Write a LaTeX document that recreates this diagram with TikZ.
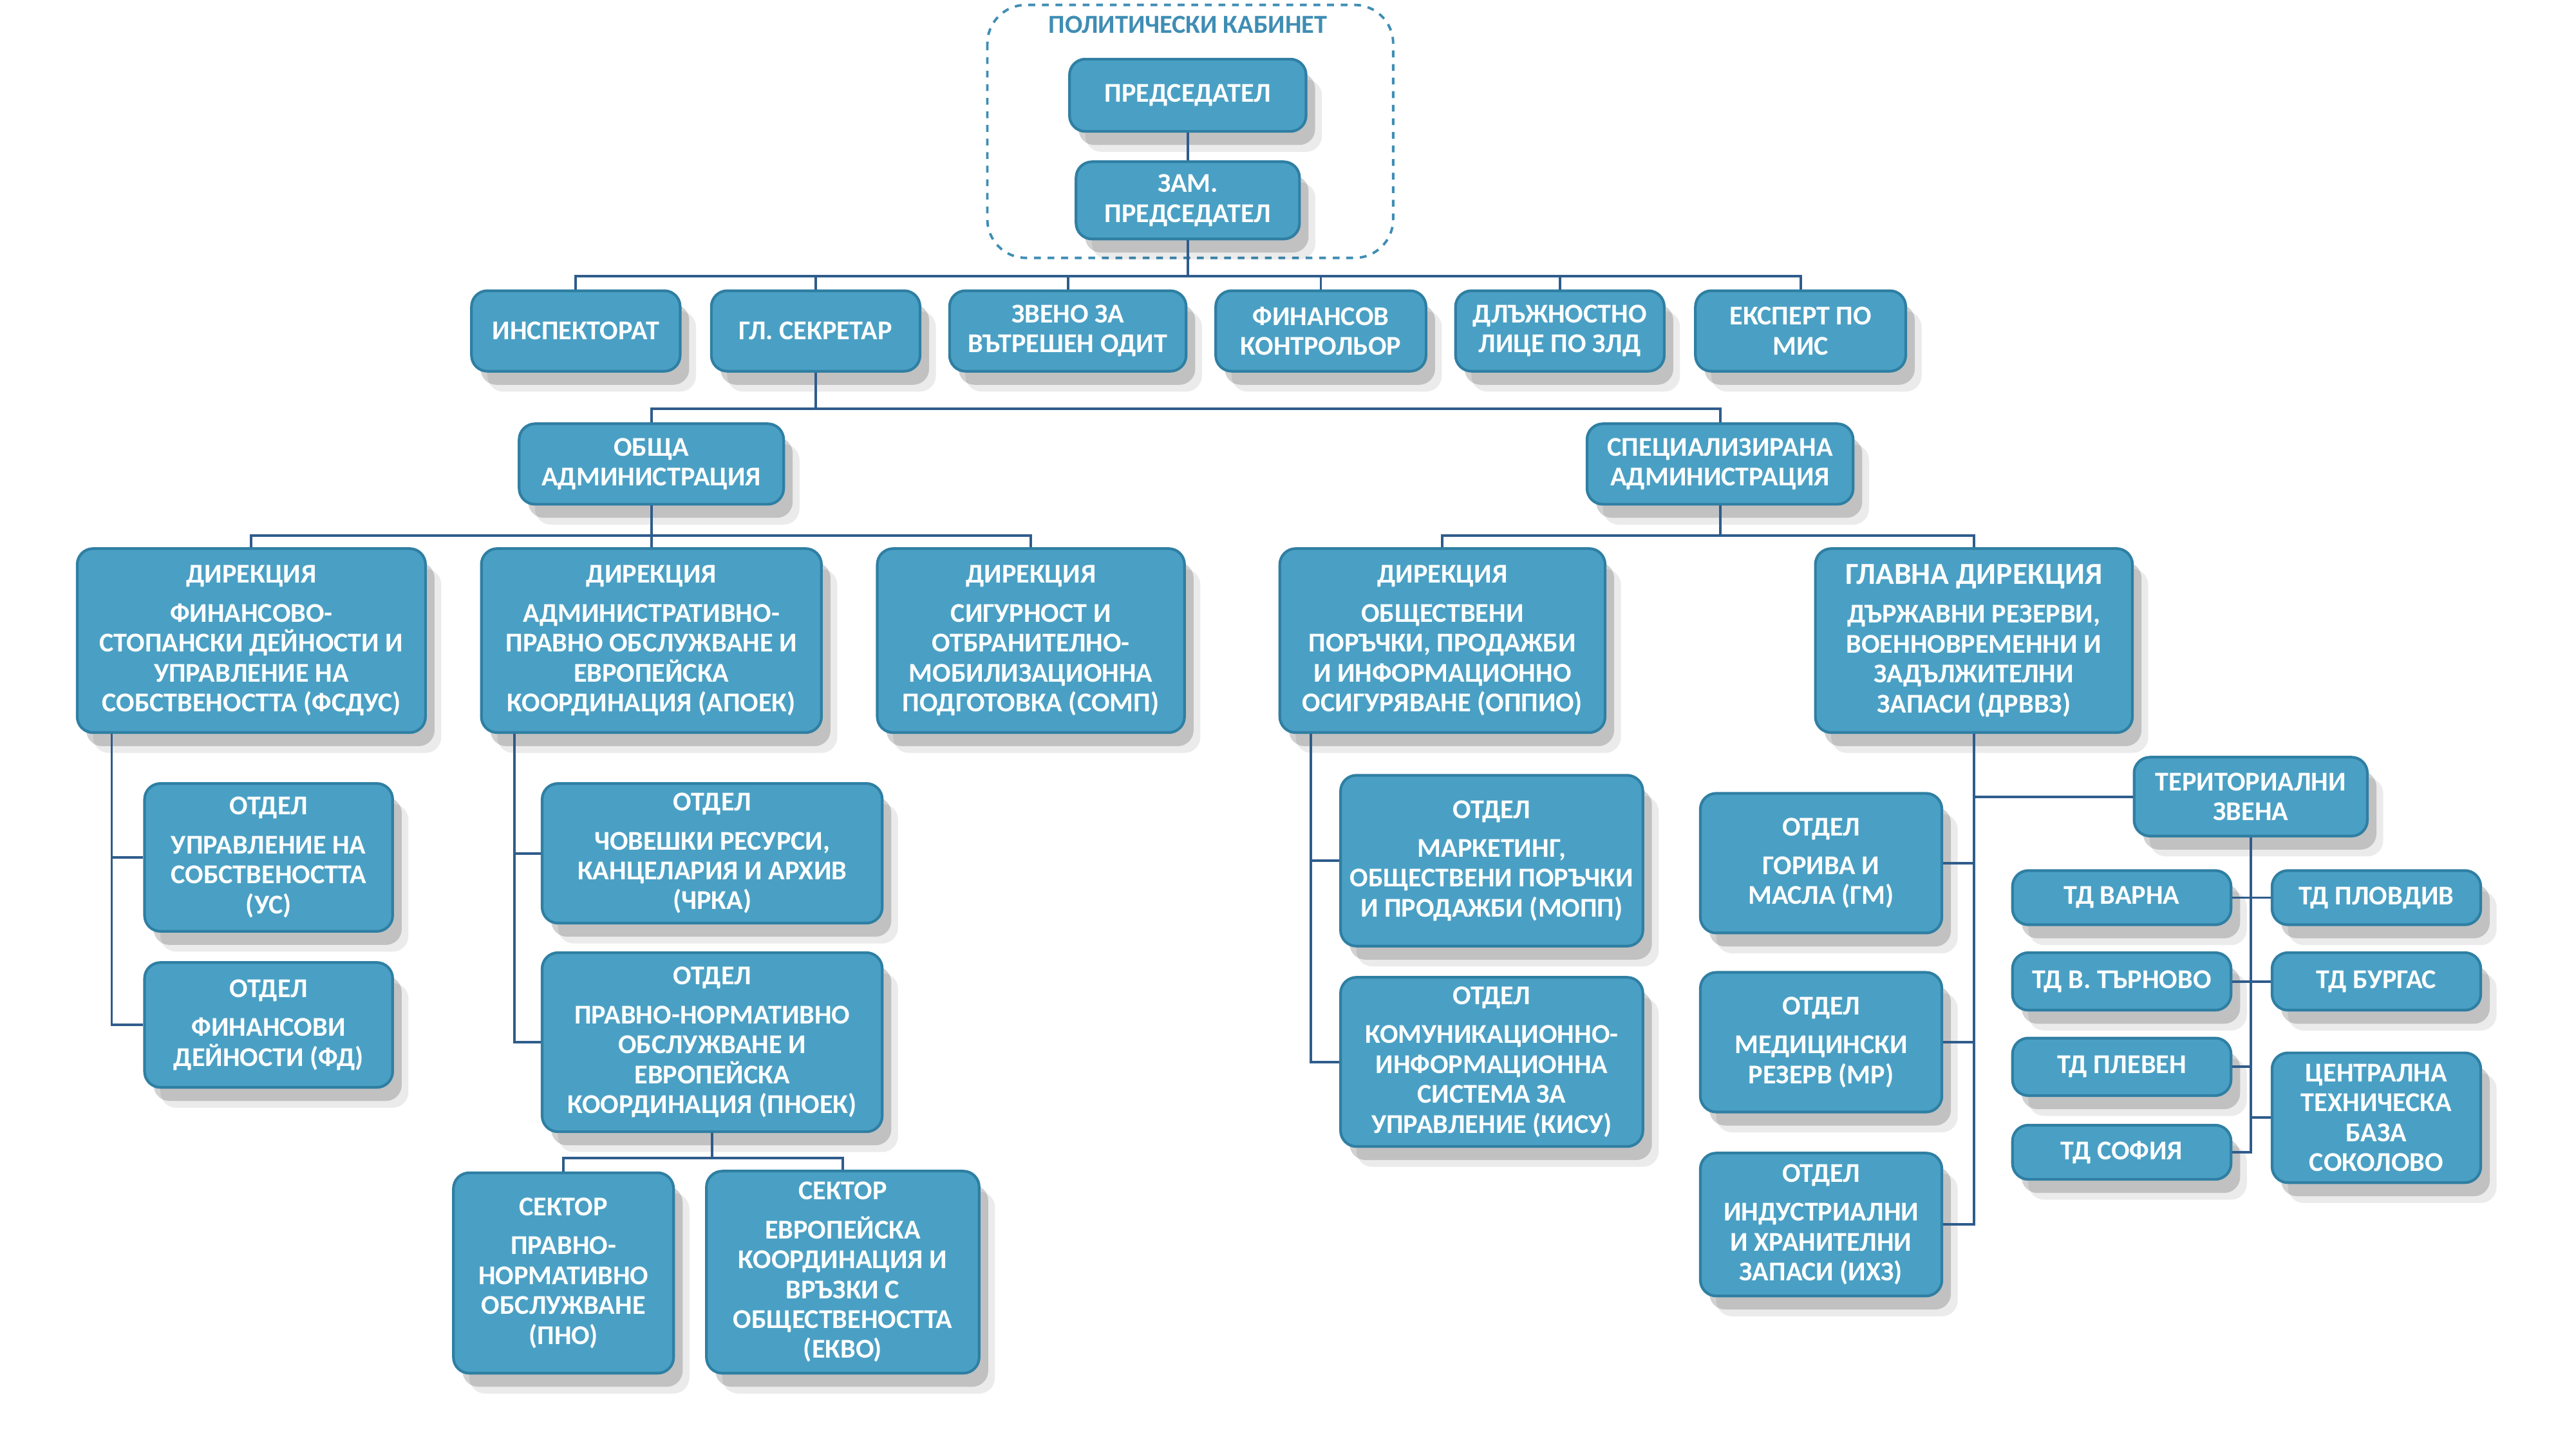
\documentclass[tikz,border=0pt]{standalone}
\usepackage{fontspec}
\setmainfont{Carlito}
\usetikzlibrary{shadows}
\definecolor{boxblue}{HTML}{4AA0C4}
\definecolor{boxedge}{HTML}{2F7FA3}
\definecolor{linkblue}{HTML}{2F5C8C}
\definecolor{cabblue}{HTML}{3F8DB4}
\tikzset{
  unit/.style={rounded corners=7pt, fill=boxblue, draw=boxedge, line width=1.2pt,
    text=white, align=center, inner sep=2pt,
    font=\bfseries\fontsize{12}{13.2}\selectfont,
    general shadow={shadow xshift=7pt, shadow yshift=-9pt, fill=black, opacity=0.08},
    drop shadow={shadow xshift=4pt, shadow yshift=-6pt, fill=black, opacity=0.18}},
  sz/.style 2 args={minimum width=#1*0.02552cm, minimum height=#2*0.02552cm},
  link/.style={draw=linkblue, line width=1.1pt},
}

\begin{document}
\begin{tikzpicture}[x=0.02552cm, y=-0.02552cm]
  \useasboundingbox (0,0) rectangle (1568,882.1);
  % political cabinet
  \draw[dashed, cabblue, line width=1.1pt, rounded corners=0.6cm] (601,3) rectangle (848,157);
  \node[text=cabblue, font=\bfseries\fontsize{11.5}{13}\selectfont] (cab) at (723,15) {ПОЛИТИЧЕСКИ КАБИНЕТ};
  \node[unit, sz={144}{44}] (pred) at (723,58) {ПРЕДСЕДАТЕЛ};
  \node[unit, sz={136}{47}] (zam) at (723,122) {ЗАМ.\\ПРЕДСЕДАТЕЛ};
  % first row
  \node[unit, sz={127}{49}] (insp) at (350.5,201.5) {ИНСПЕКТОРАТ};
  \node[unit, sz={127}{49}] (gs) at (496.5,201.5) {ГЛ. СЕКРЕТАР};
  \node[unit, sz={144}{49}] (odit) at (650,201.5) {ЗВЕНО ЗА\\ВЪТРЕШЕН ОДИТ};
  \node[unit, sz={128}{49}] (fk) at (804,201.5) {ФИНАНСОВ\\КОНТРОЛЬОР};
  \node[unit, sz={127}{49}] (zld) at (949.5,201.5) {ДЛЪЖНОСТНО\\ЛИЦЕ ПО ЗЛД};
  \node[unit, sz={128}{49}] (mis) at (1096,201.5) {ЕКСПЕРТ ПО\\МИС};
  % administrations
  \node[unit, sz={161}{49}] (oa) at (396.5,282.5) {ОБЩА\\АДМИНИСТРАЦИЯ};
  \node[unit, sz={162}{49}] (sa) at (1047,282.5) {СПЕЦИАЛИЗИРАНА\\АДМИНИСТРАЦИЯ};
  % directorates
  \node[unit, sz={212}{112}] (fsdus) at (153,390) {ДИРЕКЦИЯ\\[4pt]ФИНАНСОВО-\\СТОПАНСКИ ДЕЙНОСТИ И\\УПРАВЛЕНИЕ НА\\СОБСТВЕНОСТТА (ФСДУС)};
  \node[unit, sz={207}{112}] (apoek) at (396.5,390) {ДИРЕКЦИЯ\\[4pt]АДМИНИСТРАТИВНО-\\ПРАВНО ОБСЛУЖВАНЕ И\\ЕВРОПЕЙСКА\\КООРДИНАЦИЯ (АПОЕК)};
  \node[unit, sz={187}{112}] (somp) at (627.5,390) {ДИРЕКЦИЯ\\[4pt]СИГУРНОСТ И\\ОТБРАНИТЕЛНО-\\МОБИЛИЗАЦИОННА\\ПОДГОТОВКА (СОМП)};
  \node[unit, sz={198}{112}] (oppio) at (878,390) {ДИРЕКЦИЯ\\[4pt]ОБЩЕСТВЕНИ\\ПОРЪЧКИ, ПРОДАЖБИ\\И ИНФОРМАЦИОННО\\ОСИГУРЯВАНЕ (ОППИО)};
  \node[unit, sz={193}{112}] (drvvz) at (1201.5,390) {{\fontsize{13.5}{15}\selectfont ГЛАВНА ДИРЕКЦИЯ}\\[4pt]ДЪРЖАВНИ РЕЗЕРВИ,\\ВОЕННОВРЕМЕННИ И\\ЗАДЪЛЖИТЕЛНИ\\ЗАПАСИ (ДРВВЗ)};
  % departments
  \node[unit, sz={151}{90}] (us) at (163.5,522) {ОТДЕЛ\\[4pt]УПРАВЛЕНИЕ НА\\СОБСТВЕНОСТТА\\(УС)};
  \node[unit, sz={151}{76}] (fd) at (163.5,624) {ОТДЕЛ\\[4pt]ФИНАНСОВИ\\ДЕЙНОСТИ (ФД)};
  \node[unit, sz={207}{85}] (chrka) at (433.5,519.5) {ОТДЕЛ\\[4pt]ЧОВЕШКИ РЕСУРСИ,\\КАНЦЕЛАРИЯ И АРХИВ\\(ЧРКА)};
  \node[unit, sz={207}{109}] (pnoek) at (433.5,634.5) {ОТДЕЛ\\[4pt]ПРАВНО-НОРМАТИВНО\\ОБСЛУЖВАНЕ И\\ЕВРОПЕЙСКА\\КООРДИНАЦИЯ (ПНОЕК)};
  \node[unit, sz={134}{122}] (pno) at (343,775) {СЕКТОР\\[4pt]ПРАВНО-\\НОРМАТИВНО\\ОБСЛУЖВАНЕ\\(ПНО)};
  \node[unit, sz={166}{123}] (ekvo) at (513,774.5) {СЕКТОР\\[4pt]ЕВРОПЕЙСКА\\КООРДИНАЦИЯ И\\ВРЪЗКИ С\\ОБЩЕСТВЕНОСТТА\\(ЕКВО)};
  \node[unit, sz={184}{104}] (mopp) at (908,524) {ОТДЕЛ\\[4pt]МАРКЕТИНГ,\\ОБЩЕСТВЕНИ ПОРЪЧКИ\\И ПРОДАЖБИ (МОПП)};
  \node[unit, sz={184}{103}] (kisu) at (908,646.5) {ОТДЕЛ\\[4pt]КОМУНИКАЦИОННО-\\ИНФОРМАЦИОННА\\СИСТЕМА ЗА\\УПРАВЛЕНИЕ (КИСУ)};
  \node[unit, sz={147}{85}] (gm) at (1108.5,525.5) {ОТДЕЛ\\[4pt]ГОРИВА И\\МАСЛА (ГМ)};
  \node[unit, sz={147}{85}] (mr) at (1108.5,634.5) {ОТДЕЛ\\[4pt]МЕДИЦИНСКИ\\РЕЗЕРВ (МР)};
  \node[unit, sz={147}{87}] (ihz) at (1108.5,745.5) {ОТДЕЛ\\[4pt]ИНДУСТРИАЛНИ\\И ХРАНИТЕЛНИ\\ЗАПАСИ (ИХЗ)};
  % territorial units
  \node[unit, sz={142}{48}] (tz) at (1370,485) {ТЕРИТОРИАЛНИ\\ЗВЕНА};
  \node[unit, sz={133}{33}] (varna) at (1291.5,546.5) {ТД ВАРНА};
  \node[unit, sz={127}{33}] (plovdiv) at (1446.5,546.5) {ТД ПЛОВДИВ};
  \node[unit, sz={133}{35}] (tarnovo) at (1291.5,597.5) {ТД В. ТЪРНОВО};
  \node[unit, sz={127}{35}] (burgas) at (1446.5,597.5) {ТД БУРГАС};
  \node[unit, sz={133}{35}] (pleven) at (1291.5,649.5) {ТД ПЛЕВЕН};
  \node[unit, sz={133}{33}] (sofia) at (1291.5,701.5) {ТД СОФИЯ};
  \node[unit, sz={127}{79}] (sokolovo) at (1446.5,680.5) {ЦЕНТРАЛНА\\ТЕХНИЧЕСКА\\БАЗА\\СОКОЛОВО};
  % links
  \draw[link] (pred) -- (zam);
  \foreach \c in {insp,gs,odit,fk,zld,mis}
    \draw[link] (zam.south) -- (zam.south |- 0,168) -| (\c.north);
  \foreach \c in {oa,sa}
    \draw[link] (gs.south) -- (gs.south |- 0,249) -| (\c.north);
  \foreach \c in {fsdus,apoek,somp}
    \draw[link] (oa.south) -- (oa.south |- 0,326) -| (\c.north);
  \foreach \c in {oppio,drvvz}
    \draw[link] (sa.south) -- (sa.south |- 0,326) -| (\c.north);
  \foreach \c in {pno,ekvo}
    \draw[link] (pnoek.south) -- (pnoek.south |- 0,705) -| (\c.north);
  \foreach \c in {us,fd}
    \draw[link] (fsdus.south -| 68,0) |- (\c.west);
  \foreach \c in {chrka,pnoek}
    \draw[link] (apoek.south -| 313,0) |- (\c.west);
  \foreach \c in {mopp,kisu}
    \draw[link] (oppio.south -| 798,0) |- (\c.west);
  \foreach \c in {gm,mr,ihz}
    \draw[link] (drvvz.south) |- (\c.east);
  \draw[link] (drvvz.south) |- (tz.west);
  \foreach \c in {varna,tarnovo,pleven,sofia}
    \draw[link] (tz.south) |- (\c.east);
  \foreach \c in {plovdiv,burgas,sokolovo}
    \draw[link] (tz.south) |- (\c.west);
\end{tikzpicture}
\end{document}
